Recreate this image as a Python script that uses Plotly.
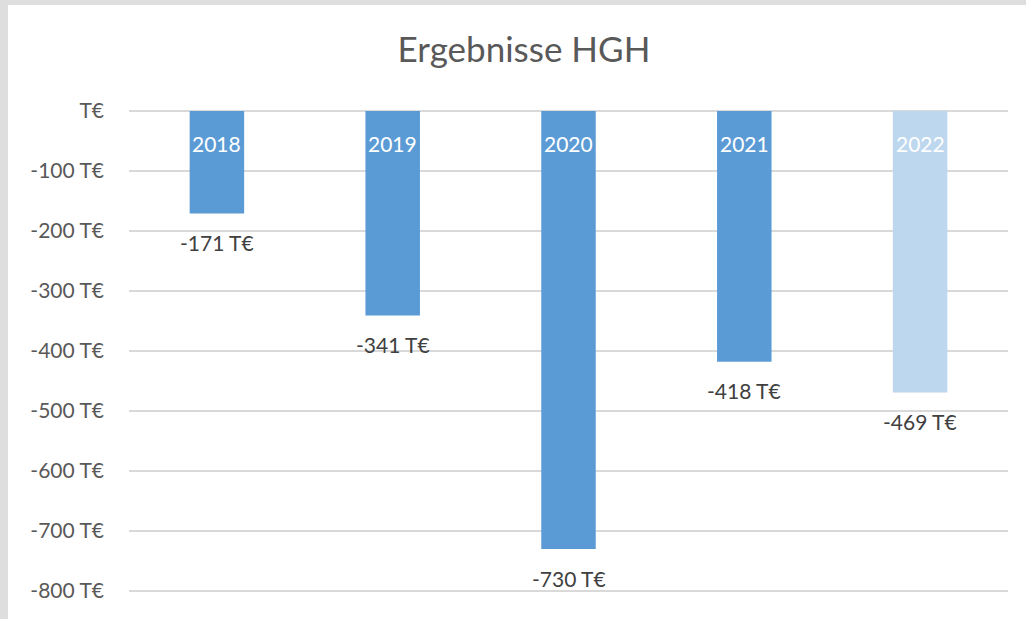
import plotly.graph_objects as go

years = ["2018", "2019", "2020", "2021", "2022"]
values = [-171, -341, -730, -418, -469]
bar_colors = ["#5B9BD5", "#5B9BD5", "#5B9BD5", "#5B9BD5", "#BDD7EE"]
tick_vals = [0, -100, -200, -300, -400, -500, -600, -700, -800]
tick_text = ["T€", "-100 T€", "-200 T€", "-300 T€", "-400 T€", "-500 T€", "-600 T€", "-700 T€", "-800 T€"]
value_labels = [f"{v} T€" for v in values]

OFF_X, OFF_Y = 8, 5          # grey frame offset of the chart card
W, H = 1026 - OFF_X, 619 - OFF_Y
L, R, T, B = 129 - OFF_X, 18, 108 - OFF_Y, 22
FONT = "Lato, 'Open Sans', sans-serif"

fig = go.Figure()
fig.add_trace(go.Bar(x=years, y=values, marker=dict(color=bar_colors, line=dict(width=0)),
                     width=0.31, hoverinfo="skip"))

annotations = []
# category axis: annotations are placed by category index (numeric-looking strings would be cast)
for i, (yr, v, lab) in enumerate(zip(years, values, value_labels)):
    annotations.append(dict(x=i, y=0, xref="x", yref="y", text=yr, showarrow=False,
                            xanchor="center", yanchor="middle", yshift=-32,
                            font=dict(family=FONT, size=21, color="white")))
    annotations.append(dict(x=i, y=v, xref="x", yref="y", text=lab, showarrow=False,
                            xanchor="center", yanchor="middle", yshift=-29,
                            font=dict(family=FONT, size=21, color="#404040")))

fig.update_layout(
    width=W, height=H,
    margin=dict(l=L, r=R, t=T, b=B),
    paper_bgcolor="white",
    plot_bgcolor="white",
    title=dict(text="Ergebnisse HGH", x=(524 - OFF_X) / W, xref="container", xanchor="center",
               y=1 - (50 - OFF_Y) / H, yref="container", yanchor="middle",
               font=dict(family=FONT, size=35, color="#595959")),
    showlegend=False,
    annotations=annotations,
    xaxis=dict(type="category", categoryorder="array", categoryarray=years, range=[-0.5, 4.5],
               showticklabels=False, showgrid=False, zeroline=False, showline=False, ticks=""),
    yaxis=dict(range=[-810, 5], tickvals=tick_vals, ticktext=tick_text, showgrid=True,
               gridcolor="#D9D9D9", gridwidth=2, zeroline=False, showline=False, ticks="",
               ticklabelstandoff=24,
               tickfont=dict(family=FONT, size=21, color="#595959")),
)

fig.write_html("out.html", config={"displayModeBar": False},
               post_script="document.body.style.margin='%dpx 0 0 %dpx';"
                           "document.body.style.background='#DEDEDE';" % (OFF_Y, OFF_X))
